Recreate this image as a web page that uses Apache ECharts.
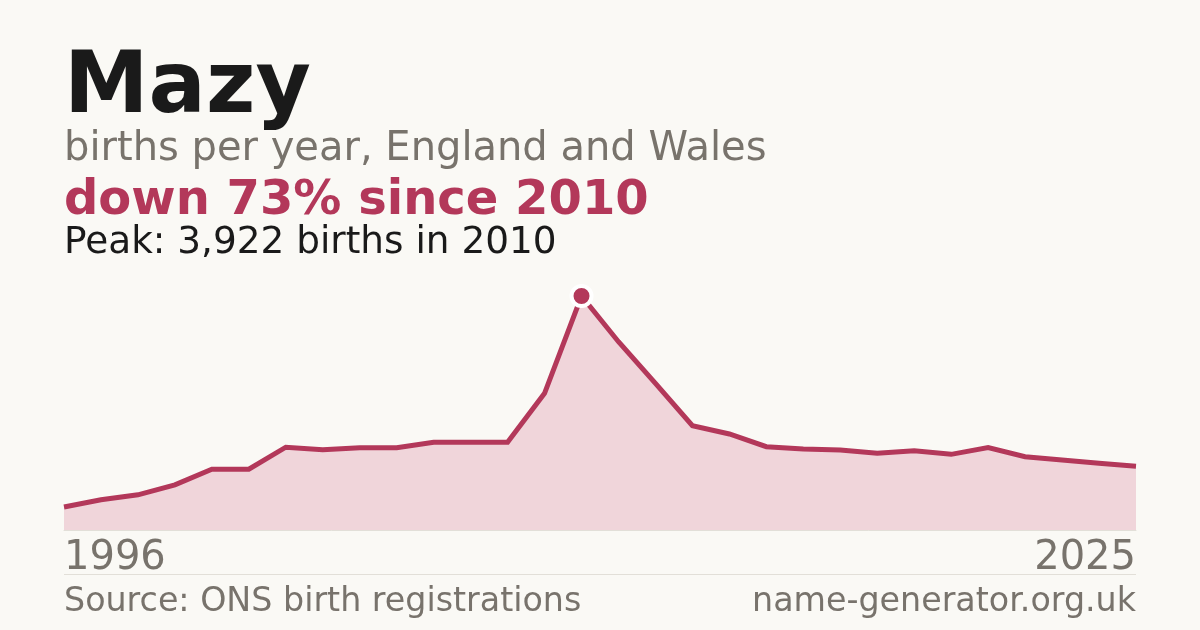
<!DOCTYPE html>
<html>
<head>
<meta charset="utf-8">
<script src="https://cdn.jsdelivr.net/npm/echarts@6/dist/echarts.min.js"></script>
<style>
html,body{margin:0;padding:0;background:#faf9f5;}
#chart{width:1200px;height:630px;}
</style>
</head>
<body>
<div id="chart"></div>
<script>
const years = ['1996','1997','1998','1999','2000','2001','2002','2003','2004','2005','2006','2007','2008','2009','2010','2011','2012','2013','2014','2015','2016','2017','2018','2019','2020','2021','2022','2023','2024','2025'];
const births = [385, 508, 590, 757, 1019, 1019, 1388, 1346, 1377, 1377, 1472, 1472, 1472, 2291, 3922, 3156, 2459, 1748, 1609, 1396, 1358, 1341, 1285, 1329, 1268, 1380, 1229, 1173, 1117, 1070];
const titleText = 'Mazy';
const subtitleText = 'births per year, England and Wales';
const headlineText = 'down 73% since 2010';
const peakText = 'Peak: 3,922 births in 2010';
const sourceText = 'Source: ONS birth registrations';
const siteText = 'name-generator.org.uk';

const FONT = '"DejaVu Sans", sans-serif';
const RED = '#b3385a';
const GRAY = '#78736c';
const BG = '#faf9f5';

function txt(text, x, y, size, weight, color, align) {
  return {
    type: 'text', x: x, y: y, silent: true,
    style: {
      text: text,
      font: weight + ' ' + size + 'px ' + FONT,
      fill: color,
      align: align || 'left',
      verticalAlign: 'top',
      lineHeight: size
    }
  };
}

const chart = echarts.init(document.getElementById('chart'), null, {renderer: 'canvas'});
chart.setOption({
  backgroundColor: BG,
  animation: false,
  grid: {left: 64, right: 64, top: 296, bottom: 100, containLabel: false},
  xAxis: {
    type: 'category',
    data: years,
    boundaryGap: false,
    axisLine: {show: true, lineStyle: {color: '#e2dfd8', width: 1}},
    axisTick: {show: false},
    splitLine: {show: false},
    axisLabel: {
      show: true,
      interval: function (i) { return i === 0 || i === years.length - 1; },
      alignMinLabel: 'left',
      alignMaxLabel: 'right',
      color: GRAY,
      fontFamily: FONT,
      fontSize: 40,
      lineHeight: 40,
      margin: 9
    }
  },
  yAxis: {
    type: 'value', min: 0, max: 'dataMax', show: false,
    splitLine: {show: false}
  },
  series: [{
    type: 'line',
    data: births,
    showSymbol: false,
    symbol: 'none',
    lineStyle: {color: RED, width: 5, cap: 'butt', join: 'miter'},
    areaStyle: {color: '#f0d5da', opacity: 1},
    markPoint: {
      symbol: 'circle',
      symbolSize: 20,
      itemStyle: {color: RED, borderColor: '#ffffff', borderWidth: 4},
      label: {show: false},
      data: [{type: 'max'}]
    }
  }],
  graphic: [
    txt(titleText, 64, 47, 85, 'bold', '#1a1a1a'),
    txt(subtitleText, 64, 130, 40, 'normal', GRAY),
    txt(headlineText, 64, 178, 48, 'bold', RED),
    txt(peakText, 64, 225, 37.4, 'normal', '#1a1a1a'),
    {
      type: 'line', silent: true,
      shape: {x1: 64, y1: 574.5, x2: 1136, y2: 574.5},
      style: {stroke: '#e2dfd8', lineWidth: 1}
    },
    txt(sourceText, 64, 586, 33.3, 'normal', GRAY),
    txt(siteText, 1136, 586, 33.3, 'normal', GRAY, 'right')
  ]
});
</script>
</body>
</html>
